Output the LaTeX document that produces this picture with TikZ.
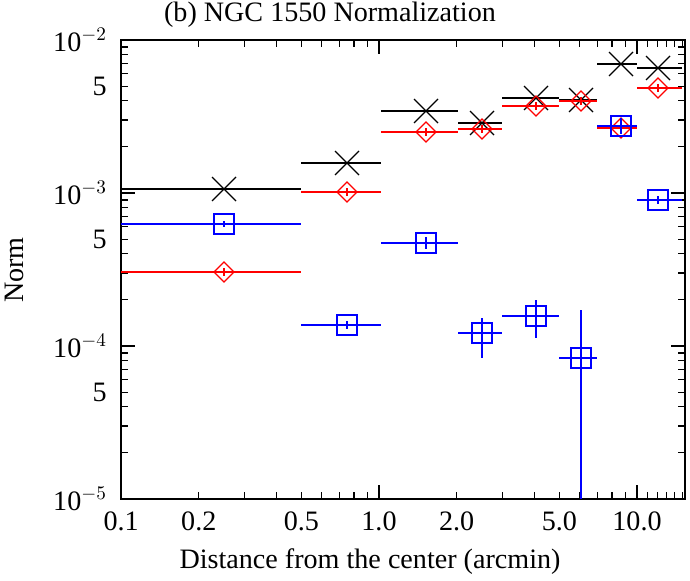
\documentclass[tikz,border=0pt]{standalone}
\usepackage{fontspec}
\setmainfont{Liberation Serif}
\begin{document}
\begin{tikzpicture}[x=0.02cm,y=-0.02cm,
 ax/.style={line width=0.6pt},
 lab/.style={font=\fontsize{16}{18}\selectfont},
 bk/.style={black,line width=0.7pt},
 rd/.style={red,line width=0.7pt},
 bl/.style={blue,line width=0.7pt}]
\useasboundingbox (0,0) rectangle (690,581);
\def\X#1{121+258*(log10(#1)+1)}
\def\Y#1{499-153*(log10(#1)+5)}
\draw[ax] (121,40) rectangle (685,499);
% x ticks
\foreach \v in {0.1,1,10}{\draw[ax] ({\X{\v}},499)--++(0,-14) ({\X{\v}},40)--++(0,14);}
\foreach \v in {0.2,0.3,0.4,0.5,0.6,0.7,0.8,0.9,2,3,4,5,6,7,8,9,11,12,13,14,15}{\draw[ax] ({\X{\v}},499)--++(0,-7) ({\X{\v}},40)--++(0,7);}
\foreach \v/\t in {0.1/0.1,0.2/0.2,0.5/0.5,1/1.0,2/2.0,5/5.0,10/10.0}{\node[lab,anchor=north] at ({\X{\v}},506) {\t};}
% y ticks
\foreach \d in {0,1,2,3}{\draw[ax] (121,{499-153*\d})--++(14,0) (685,{499-153*\d})--++(-14,0);}
\foreach \d in {0,1,2}{\foreach \m in {2,...,9}{\draw[ax] (121,{499-153*(\d+log10(\m))})--++(7,0) (685,{499-153*(\d+log10(\m))})--++(-7,0);}}
\foreach \d/\e in {0/-5,1/-4,2/-3,3/-2}{\node[lab,anchor=east] at (113,{499-153*\d}) {10$^{\e}$};}
\foreach \d in {0,1,2}{\node[lab,anchor=east] at (113,{499-153*(\d+log10(5))}) {5};}
\node[lab] at (330,15) {(b) NGC 1550 Normalization};
\node[lab] at (370,562) {Distance from the center (arcmin)};
\node[lab,rotate=90] at (14,270) {Norm};
% black
\foreach \a/\b/\c/\y in {121/301/224/189,301/381/347/163,381/458/426/111,458/502/482/123,502/559/536/98,559/597/581/100,597/637/621/64,637/682/658/68}{
 \draw[bk] (\a,\y)--(\b,\y);
 \draw[bk] (\c-12,\y-12)--(\c+12,\y+12) (\c-12,\y+12)--(\c+12,\y-12);}
% red
\foreach \a/\b/\c/\y in {121/301/224/272,301/381/347/192,381/458/426/132,458/502/482/129,502/559/536/106,559/597/581/101,597/637/621/128,637/682/658/88}{
 \draw[rd] (\a,\y)--(\b,\y) (\c,\y-4)--(\c,\y+4);
 \draw[rd] (\c-10,\y)--(\c,\y-10)--(\c+10,\y)--(\c,\y+10)--cycle;}
% blue
\foreach \a/\b/\c/\y/\lo/\hi in {121/301/224/224/221/227,301/381/347/325/321/329,381/458/426/243/237/249,458/502/482/333/318/358,502/559/536/316/300/338,559/597/581/358/310/499,597/637/621/126/118/134,637/682/658/200/196/204}{
 \draw[bl] (\a,\y)--(\b,\y) (\c,\lo)--(\c,\hi);
 \draw[bl] (\c-10,\y-10) rectangle (\c+10,\y+10);}
\end{tikzpicture}
\end{document}
